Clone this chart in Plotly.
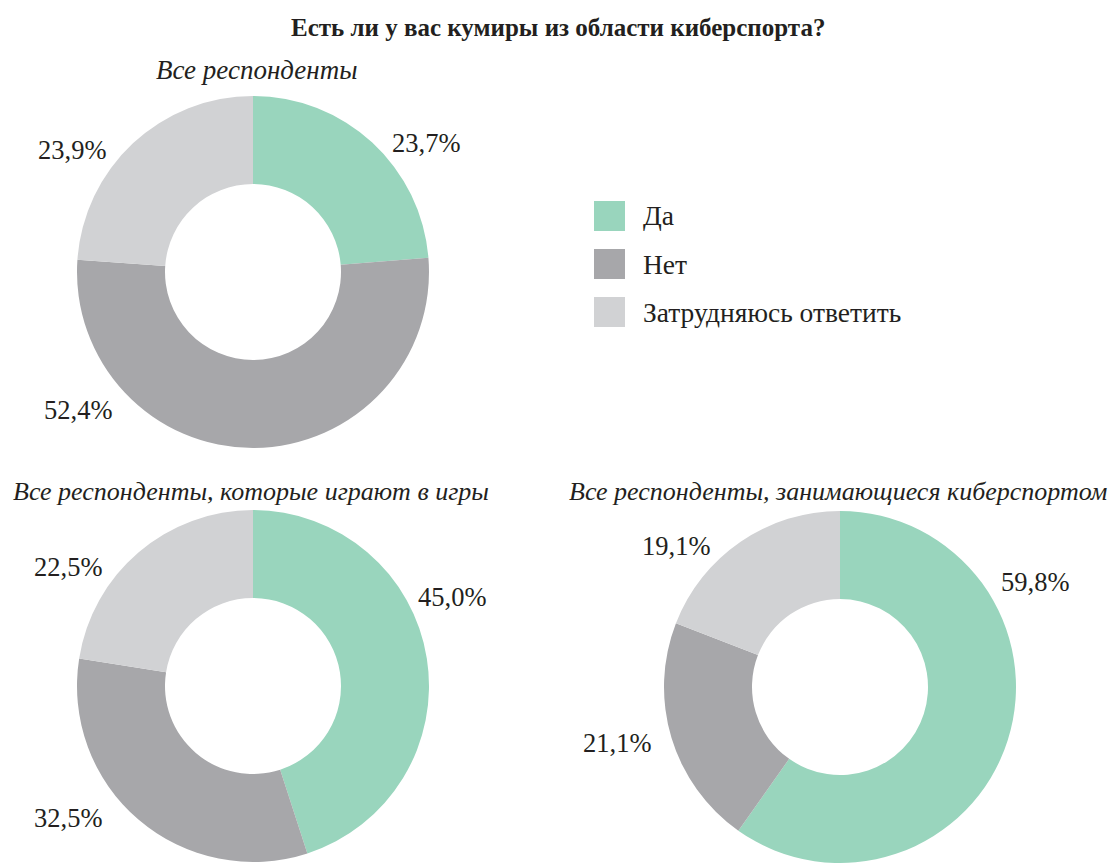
import plotly.graph_objects as go

W, H = 1116, 863

categories = ["Да", "Нет", "Затрудняюсь ответить"]
colors = ["#99D5BD", "#A7A7AA", "#D1D2D4"]

all_resp = [23.7, 52.4, 23.9]
gamers = [45.0, 32.5, 22.5]
esports = [59.8, 21.1, 19.1]

subtitles = ["Все респонденты",
             "Все респонденты, которые играют в игры",
             "Все респонденты, занимающиеся киберспортом"]
title = "Есть ли у вас кумиры из области киберспорта?"

# layout (pixel boxes: x0, x1, y_top, y_bottom)
pie_boxes = [(77, 429, 96, 448), (77, 429, 510, 862), (664, 1016, 511, 863)]
subtitle_pos = [(257, 70), (251, 491), (838, 491)]
subtitle_size = [27, 26, 26]
label_pos = [
    [(426, 143), (78, 410), (72, 150)],
    [(452, 597), (68, 818), (68, 567)],
    [(1035, 582), (617, 743), (676, 546)],
]

FONT = "Liberation Serif, Times New Roman, serif"
TXT = "#231F20"


def ann(text, px, py, size, xanchor="center"):
    return dict(text=text, x=px / W, y=1 - py / H, xref="paper", yref="paper",
                xanchor=xanchor, yanchor="middle", showarrow=False,
                font=dict(family=FONT, size=size, color=TXT))


fig = go.Figure()
series = [all_resp, gamers, esports]
for vals, (x0, x1, yt, yb) in zip(series, pie_boxes):
    fig.add_trace(go.Pie(
        labels=categories, values=vals, sort=False, direction="clockwise",
        rotation=0, hole=0.5, textinfo="none", hoverinfo="label+percent",
        marker=dict(colors=colors, line=dict(width=0)),
        domain=dict(x=[x0 / W, x1 / W], y=[1 - yb / H, 1 - yt / H]),
        showlegend=False,
    ))

annotations = [ann("<b>" + title + "</b>", 558, 28, 25)]
for txt, (px, py), sz in zip(subtitles, subtitle_pos, subtitle_size):
    annotations.append(ann("<i>" + txt + "</i>", px, py, sz))
for vals, poss in zip(series, label_pos):
    for v, (px, py) in zip(vals, poss):
        annotations.append(ann(f"{v:.1f}".replace(".", ",") + "%", px, py, 26.5))

# legend
shapes = []
leg_y = [216, 264, 312]
for cat, col, ly in zip(categories, colors, leg_y):
    shapes.append(dict(type="rect", xref="paper", yref="paper",
                       x0=594 / W, x1=625 / W, y0=1 - (ly + 15) / H, y1=1 - (ly - 15) / H,
                       fillcolor=col, line=dict(width=0)))
    annotations.append(ann(cat, 641, ly, 27.5, xanchor="left"))

fig.update_layout(
    width=W, height=H, margin=dict(l=0, r=0, t=0, b=0),
    paper_bgcolor="white", plot_bgcolor="white",
    annotations=annotations, shapes=shapes, showlegend=False,
)

fig.write_html("out.html")
